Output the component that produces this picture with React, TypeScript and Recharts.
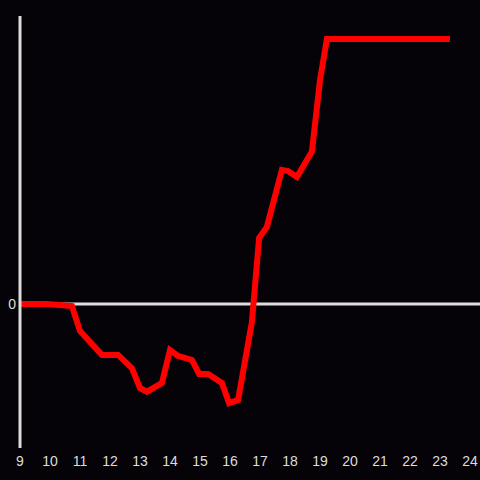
import { LineChart, Line, XAxis, YAxis, ReferenceLine } from "recharts";

// hours of the day (x) and value (y)
const hours = [
    9, 9.9, 10.73, 11, 11.73, 12.27, 12.73, 13, 13.23, 13.73, 14, 14.27, 14.73, 14.97,
    15.27, 15.73, 15.97, 16.27, 16.73, 16.97, 17.23, 17.73, 17.93, 18.23, 18.73, 19,
    19.23, 23.33,
];
const values = [
    0, 0, -0.8, -10.2, -19.2, -19.2, -24.2, -31.7, -33.1, -29.8, -17.4, -19.6, -21.1, -26.4,
    -26.4, -29.8, -37.4, -36.2, -6.8, 24.9, 29.1, 50.6, 50.2, 47.9, 57.5, 84.5,
    100, 100,
];
const xTicks = [9, 10, 11, 12, 13, 14, 15, 16, 17, 18, 19, 20, 21, 22, 23, 24];
const yTicks = [0];

const data = hours.map((h, i) => ({ hour: h, value: values[i] }));

const axisColor = "#dddddd";
const font = "'Liberation Sans', Arial, sans-serif";

export default function App() {
    return (
        <div
            style={{
                position: "fixed",
                left: 0,
                top: 0,
                width: 480,
                height: 480,
                background: "#050307",
            }}
        >
            <LineChart
                width={480}
                height={480}
                data={data}
                margin={{ top: 16, right: 0, bottom: 0, left: 0 }}
            >
                <XAxis
                    dataKey="hour"
                    type="number"
                    domain={[9, 24.333]}
                    ticks={xTicks}
                    height={32}
                    axisLine={false}
                    tickLine={false}
                    fontSize={14}
                    tick={{ fill: axisColor, fontSize: 14, fontFamily: font }}
                    interval={0}
                />
                <YAxis
                    type="number"
                    domain={[-54.34, 108.68]}
                    ticks={yTicks}
                    width={20}
                    tickSize={0}
                    tickMargin={4}
                    fontSize={14}
                    axisLine={{ stroke: axisColor, strokeWidth: 3 }}
                    tickLine={false}
                    tick={{ fill: axisColor, fontSize: 14, fontFamily: font }}
                />
                <ReferenceLine y={0} stroke={axisColor} strokeWidth={3} />
                <Line
                    type="linear"
                    dataKey="value"
                    stroke="#ff0000"
                    strokeWidth={6}
                    dot={false}
                    isAnimationActive={false}
                />
            </LineChart>
        </div>
    );
}
